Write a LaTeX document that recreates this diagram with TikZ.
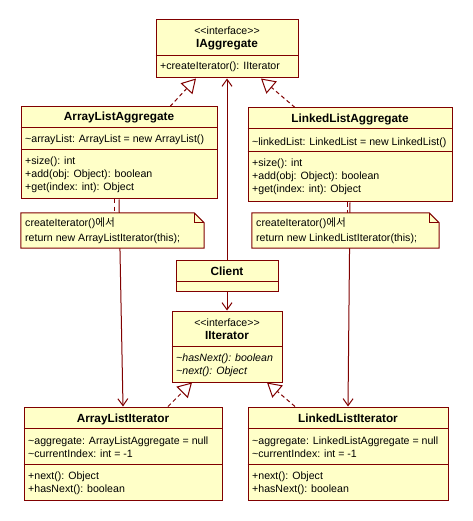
\documentclass[tikz,border=0pt]{standalone}
\usepackage{fontspec}
\setmainfont{Liberation Sans}
\newfontfamily\krfont{Noto Sans CJK KR}
\usetikzlibrary{arrows.meta}
\definecolor{umlline}{RGB}{128,0,0}
\definecolor{umlfill}{RGB}{255,255,200}

\begin{document}
\begin{tikzpicture}[x=1pt,y=-1pt,
    box/.style={draw=umlline,fill=umlfill,line width=1pt,inner sep=0pt},
    divider/.style={draw=umlline,line width=1pt},
    txt/.style={anchor=base west,inner sep=0pt,font=\fontsize{10.6}{13}\selectfont},
    ctxt/.style={anchor=base,inner sep=0pt,font=\fontsize{10.6}{13}\selectfont},
    title/.style={anchor=base,inner sep=0pt,font=\fontsize{11.8}{13}\bfseries},
    realize/.style={draw=umlline,line width=1pt,dash pattern=on 4pt off 3pt,-{Triangle[open,length=14pt,width=16pt]}},
    assoc/.style={draw=umlline,line width=1pt,-{Straight Barb[length=7pt,width=10pt]}},
    notelink/.style={draw=umlline,line width=1pt,dash pattern=on 4pt off 3pt}]
                          \useasboundingbox[fill=white] (0,0) rectangle (472,521);

                          \node[box,minimum width=142pt,minimum height=58pt] (iAgg) at (227,49) {};
                          \node[box,minimum width=196pt,minimum height=92pt] (alAgg) at (119,153) {};
                          \node[box,minimum width=204pt,minimum height=94pt] (llAgg) at (350,155) {};
                          \node[box,minimum width=102pt,minimum height=31pt] (client) at (227,275.5) {};
                          \node[box,minimum width=110pt,minimum height=71pt] (iIter) at (227,346.5) {};
                          \node[box,minimum width=198pt,minimum height=93pt] (alIter) at (123,453.5) {};
                          \node[box,minimum width=200pt,minimum height=93pt] (llIter) at (348,453.5) {};
                          \node[inner sep=0pt,minimum width=183pt,minimum height=35pt] (alNote) at (112.5,230.5) {};
                          \node[inner sep=0pt,minimum width=187pt,minimum height=35pt] (llNote) at (345.5,230.5) {};

                          \draw[divider] ([yshift=-36pt]iAgg.north west) -- ([yshift=-36pt]iAgg.north east);
                          \draw[divider] ([yshift=-21pt]alAgg.north west) -- ([yshift=-21pt]alAgg.north east);
                          \draw[divider] ([yshift=-43pt]alAgg.north west) -- ([yshift=-43pt]alAgg.north east);
                          \draw[divider] ([yshift=-21pt]llAgg.north west) -- ([yshift=-21pt]llAgg.north east);
                          \draw[divider] ([yshift=-44pt]llAgg.north west) -- ([yshift=-44pt]llAgg.north east);
                          \draw[divider] ([yshift=-22pt]client.north west) -- ([yshift=-22pt]client.north east);
                          \draw[divider] ([yshift=-36pt]iIter.north west) -- ([yshift=-36pt]iIter.north east);
                          \draw[divider] ([yshift=-22pt]alIter.north west) -- ([yshift=-22pt]alIter.north east);
                          \draw[divider] ([yshift=-58pt]alIter.north west) -- ([yshift=-58pt]alIter.north east);
                          \draw[divider] ([yshift=-22pt]llIter.north west) -- ([yshift=-22pt]llIter.north east);
                          \draw[divider] ([yshift=-58pt]llIter.north west) -- ([yshift=-58pt]llIter.north east);

                          \draw[realize] ([xshift=51pt]alAgg.north) -- ([xshift=-31pt]iAgg.south);
                          \draw[realize] ([xshift=-55pt]llAgg.north) -- ([xshift=34pt]iAgg.south);
                          \draw[realize] ([xshift=45pt]alIter.north) -- ([xshift=-35pt]iIter.south);
                          \draw[realize] ([xshift=-53pt]llIter.north) -- ([xshift=40pt]iIter.south);
                          \draw[assoc] (client.north) -- (iAgg.south);
                          \draw[assoc] (client.south) -- (iIter.north);
                          \draw[assoc] (alAgg.south) -- (alIter.north);
                          \draw[assoc] (llAgg.south) -- (llIter.north);
                          \draw[notelink] ([xshift=-5pt]alAgg.south) -- ([xshift=1.5pt]alNote.north);
                          \draw[notelink] ([xshift=-3pt]llAgg.south) -- ([xshift=1.5pt]llNote.north);

                          \draw[box] (alNote.north west) -- ([xshift=-10pt]alNote.north east) -- ([yshift=-10pt]alNote.north east) -- (alNote.south east) -- (alNote.south west) -- cycle;
                          \draw[divider] ([xshift=-10pt]alNote.north east) -- ([xshift=-10pt,yshift=-10pt]alNote.north east) -- ([yshift=-10pt]alNote.north east);
                          \draw[box] (llNote.north west) -- ([xshift=-10pt]llNote.north east) -- ([yshift=-10pt]llNote.north east) -- (llNote.south east) -- (llNote.south west) -- cycle;
                          \draw[divider] ([xshift=-10pt]llNote.north east) -- ([xshift=-10pt,yshift=-10pt]llNote.north east) -- ([yshift=-10pt]llNote.north east);

                          \node[ctxt] (iAggS) at (227,35) {<{}<interface>{}>};
                          \node[title] (iAggT) at (227,48) {IAggregate};
                          \node[txt] (iAggM1) at (160,70) {+createIterator(): IIterator};

                          \node[title] (alAggT) at (119,121) {ArrayListAggregate};
                          \node[txt] (alAggA1) at (25,143) {\textasciitilde arrayList: ArrayList = new ArrayList()};
                          \node[txt] (alAggM1) at (25,165) {+size(): int};
                          \node[txt] (alAggM2) at (25,178) {+add(obj: Object): boolean};
                          \node[txt] (alAggM3) at (25,191) {+get(index: int): Object};

                          \node[title] (llAggT) at (350,123) {LinkedListAggregate};
                          \node[txt] (llAggA1) at (252,146) {\textasciitilde linkedList: LinkedList = new LinkedList()};
                          \node[txt] (llAggM1) at (252,167) {+size(): int};
                          \node[txt] (llAggM2) at (252,180) {+add(obj: Object): boolean};
                          \node[txt] (llAggM3) at (252,193) {+get(index: int): Object};

                          \node[txt] (alNoteL1) at (25,226) {createIterator(){\krfont 에서}};
                          \node[txt] (alNoteL2) at (25,241) {return new ArrayListIterator(this);};
                          \node[txt] (llNoteL1) at (256,226) {createIterator(){\krfont 에서}};
                          \node[txt] (llNoteL2) at (256,241) {return new LinkedListIterator(this);};

                          \node[title] (clientT) at (227,275) {Client};

                          \node[ctxt] (iIterS) at (227,326) {<{}<interface>{}>};
                          \node[title] (iIterT) at (227,339) {IIterator};
                          \node[txt,font=\fontsize{10.6}{13}\itshape] (iIterM1) at (176,361) {\textasciitilde hasNext(): boolean};
                          \node[txt,font=\fontsize{10.6}{13}\itshape] (iIterM2) at (176,374) {\textasciitilde next(): Object};

                          \node[title] (alIterT) at (123,422) {ArrayListIterator};
                          \node[txt] (alIterA1) at (28,444) {\textasciitilde aggregate: ArrayListAggregate = null};
                          \node[txt] (alIterA2) at (28,457) {\textasciitilde currentIndex: int = -1};
                          \node[txt] (alIterM1) at (28,479) {+next(): Object};
                          \node[txt] (alIterM2) at (28,492) {+hasNext(): boolean};

                          \node[title] (llIterT) at (348,422) {LinkedListIterator};
                          \node[txt] (llIterA1) at (252,444) {\textasciitilde aggregate: LinkedListAggregate = null};
                          \node[txt] (llIterA2) at (252,457) {\textasciitilde currentIndex: int = -1};
                          \node[txt] (llIterM1) at (252,479) {+next(): Object};
                          \node[txt] (llIterM2) at (252,492) {+hasNext(): boolean};
                          \end{tikzpicture}
\end{document}
